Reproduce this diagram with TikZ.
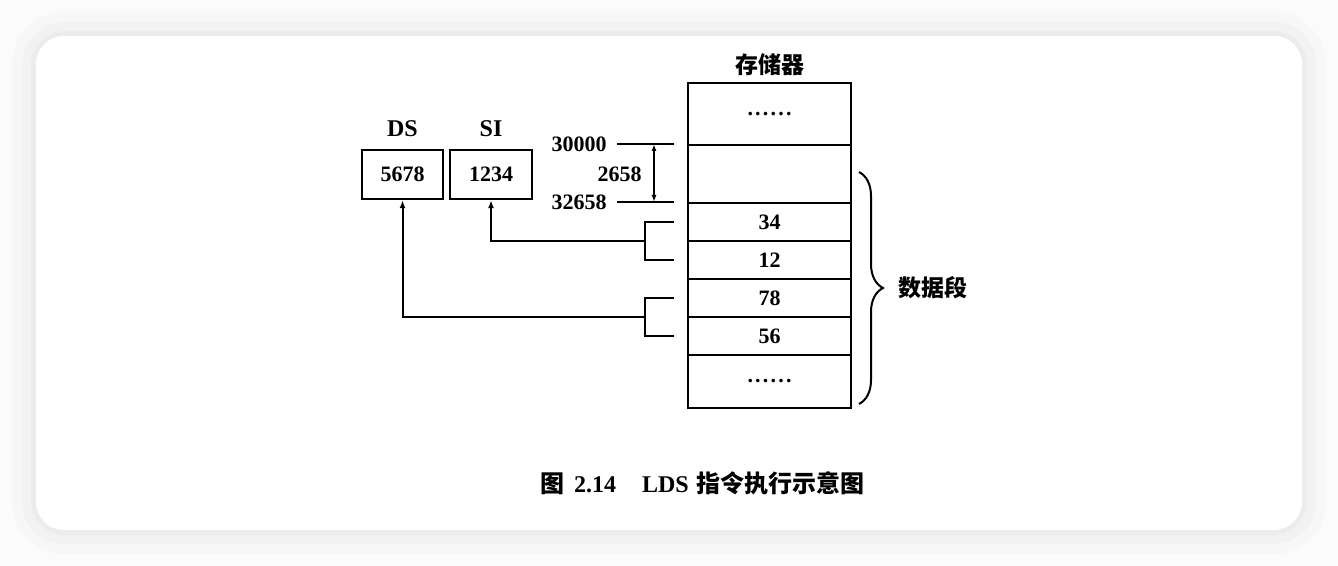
\documentclass[tikz,border=0pt]{standalone}
\usepackage{fontspec}
\setmainfont{Liberation Serif}
\newfontfamily\cjkfont{Noto Sans CJK SC}
\usetikzlibrary{arrows.meta, positioning, calc, decorations.pathreplacing}
\newcommand{\celldots}{.\kern1.1pt.\kern1.1pt.\kern1.1pt.\kern1.1pt.\kern1.1pt.}

\begin{document}
\begin{tikzpicture}[
        x=0.5pt, y=-0.5pt,
        cell/.style={rectangle, draw, line width=1pt, minimum width=81.5pt, inner sep=0pt, font=\bfseries\fontsize{11}{13}\selectfont},
        reg/.style={rectangle, draw, line width=1.2pt, minimum width=40.5pt, minimum height=24.5pt, inner sep=0pt, font=\bfseries\fontsize{11}{13}\selectfont},
        lbl/.style={font=\bfseries\fontsize{12}{14}\selectfont, inner sep=1pt},
        num/.style={font=\bfseries\fontsize{11}{13}\selectfont, inner sep=1pt},
        zh/.style={font=\cjkfont\bfseries\fontsize{11.5}{14}\selectfont, inner sep=1pt},
        wire/.style={line width=1pt},
        arr/.style={-{Latex[length=4pt, width=3pt]}, line width=1pt},
        dim/.style={{Latex[length=3.5pt, width=2.5pt]}-{Latex[length=3.5pt, width=2.5pt]}, line width=1pt}
    ]
        % Background card
        \useasboundingbox (0,0) rectangle (1338,566);
        \fill[gray!3] (0,0) rectangle (1338,566);
        \fill[gray!6, rounded corners=26pt] (12,12) rectangle (1326,554);
        \fill[gray!10, rounded corners=21pt] (22,22) rectangle (1316,544);
        \fill[gray!15, rounded corners=17pt] (31,31) rectangle (1307,535);
        \fill[white, rounded corners=14pt] (36,36) rectangle (1302,530);

        % Memory
        \node[cell, minimum height=31pt] (m0) at (769.5,114) {\celldots};
        \node[cell, minimum height=29pt] (m1) at (769.5,174) {};
        \node[cell, minimum height=19pt] (m2) at (769.5,222) {34};
        \node[cell, minimum height=19pt] (m3) at (769.5,260) {12};
        \node[cell, minimum height=19pt] (m4) at (769.5,298) {78};
        \node[cell, minimum height=19pt] (m5) at (769.5,336) {56};
        \node[cell, minimum height=26.5pt] (m6) at (769.5,381.5) {\celldots};
        \node[zh, above=2pt of m0] (mem) {存储器};

        % Registers
        \node[reg] (ds) at (402.5,174.5) {5678};
        \node[reg, minimum width=41pt] (si) at (491,174.5) {1234};
        \node[lbl, above=5pt of ds] (dsl) {DS};
        \node[lbl, above=5pt of si] (sil) {SI};

        % Offset
        \coordinate (d1) at ([xshift=-6.5pt]m1.north west);
        \coordinate (d2) at ([xshift=-6.5pt]m2.north west);
        \node[num, anchor=east] (a1) at (609,144) {30000};
        \node[num, anchor=east] (a2) at (609,202) {32658};
        \node[num, anchor=east] (off) at (644,174) {2658};
        \draw[wire] ([xshift=4pt]a1.east) -- (d1);
        \draw[wire] ([xshift=4pt]a2.east) -- (d2);
        \draw[dim] ([xshift=-10pt]d1) -- ([xshift=-10pt]d2);

        % Words loaded into SI and DS
        \draw[wire] ([xshift=-6.5pt]m2.west) -| ([xshift=-21pt]m3.west) -- ([xshift=-6.5pt]m3.west);
        \draw[wire] ([xshift=-6.5pt]m4.west) -| ([xshift=-21pt]m5.west) -- ([xshift=-6.5pt]m5.west);
        \coordinate (j1) at ($(m2.west)!0.5!(m3.west) + (-42,0)$);
        \coordinate (j2) at ($(m4.west)!0.5!(m5.west) + (-42,0)$);
        \draw[arr] (j1) -| (si.south);
        \draw[arr] (j2) -| (ds.south);

        % Data segment
        \coordinate (bt) at ([xshift=3.5pt, yshift=1pt]m1.east);
        \coordinate (bb) at ([xshift=3.5pt, yshift=2.5pt]m6.south east);
        \draw[decorate, decoration={brace, amplitude=12pt}, line width=1pt] (bt) -- (bb);
        \node[zh] (seg) at (933,288) {数据段};

        % Caption
        \node[font=\bfseries\fontsize{12}{14}\selectfont] (cap) at (702.5,483) {{\cjkfont 图}\hspace{5pt}2.14\hspace{13pt}LDS\hspace{4pt}{\cjkfont 指令执行示意图}};
    \end{tikzpicture}
\end{document}
